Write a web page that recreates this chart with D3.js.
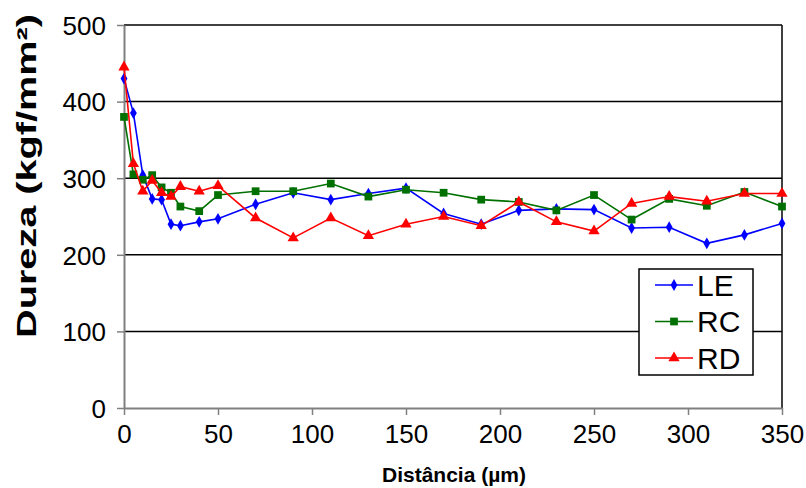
<!DOCTYPE html>
<html>
<head>
<meta charset="utf-8">
<script src="https://cdn.jsdelivr.net/npm/d3@7"></script>
<style>
  body { margin: 0; background: #fff; }
  svg { font-family: "Liberation Sans", Arial, sans-serif; }
</style>
</head>
<body>
<div id="chart"></div>
<script>
// distances (um) where hardness was measured
const distances = [0, 5, 10, 15, 20, 25, 30, 40, 50, 70, 90, 110, 130, 150, 170, 190, 210, 230, 250, 270, 290, 310, 330, 350];
const le = [430, 385, 304, 273, 272, 240, 238, 243, 247, 266, 281, 272, 280, 287, 254, 240, 258, 260, 259, 235, 236, 215, 226, 241];
const rc = [380, 305, 298, 304, 288, 281, 263, 257, 278, 283, 283, 293, 276, 285, 281, 272, 269, 258, 278, 246, 273, 264, 282, 263];
const rd = [445, 319, 283, 297, 281, 276, 289, 283, 290, 248, 222, 248, 225, 240, 250, 238, 269, 243, 231, 267, 276, 270, 280, 280];
const seriesNames = ['LE', 'RC', 'RD'];
const xTicks = [0, 50, 100, 150, 200, 250, 300, 350];
const yTicks = [0, 100, 200, 300, 400, 500];

const width = 806, height = 488;
const plotLeft = 124, plotRight = 782, plotTop = 25, plotBottom = 408;

const svg = d3.select('#chart').append('svg')
    .attr('width', width)
    .attr('height', height);

let x = d3.scaleLinear().domain([0, 350]).range([plotLeft, plotRight]);
let y = d3.scaleLinear().domain([0, 500]).range([plotBottom, plotTop]);

// gridlines (black), 500 line works as top border
svg.append('g')
    .selectAll('line')
    .data(yTicks.filter(d => d > 0))
    .join('line')
        .attr('x1', plotLeft).attr('x2', plotRight)
        .attr('y1', d => y(d)).attr('y2', d => y(d))
        .attr('stroke', '#000')
        .attr('stroke-width', 1.5);

// right border
svg.append('line')
    .attr('x1', plotRight).attr('x2', plotRight)
    .attr('y1', plotTop).attr('y2', plotBottom)
    .attr('stroke', '#000')
    .attr('stroke-width', 1.5);

// axes in grey
let xAxis = svg.append('g')
    .attr('transform', `translate(0,${plotBottom})`)
    .call(d3.axisBottom(x).tickValues(xTicks).tickSize(7).tickPadding(10).tickSizeOuter(0));
let yAxis = svg.append('g')
    .attr('transform', `translate(${plotLeft},0)`)
    .call(d3.axisLeft(y).tickValues(yTicks).tickSize(7).tickPadding(11).tickSizeOuter(0));

[xAxis, yAxis].forEach(a => {
    a.select('.domain').attr('stroke', '#808080').attr('stroke-width', 2);
    a.selectAll('.tick line').attr('stroke', '#808080').attr('stroke-width', 1.5);
    a.selectAll('.tick text')
        .attr('fill', '#000')
        .style('font-size', '26px')
        .style('font-family', '"Liberation Sans", Arial, sans-serif');
});
yAxis.selectAll('.tick text').attr('dy', '0.36em');

// titles
svg.append('text')
    .attr('x', 454)
    .attr('y', 482)
    .attr('text-anchor', 'middle')
    .style('font-size', '21px')
    .style('font-weight', 'bold')
    .text('Distância (µm)');

svg.append('text')
    .attr('transform', 'translate(36,176) rotate(-90)')
    .attr('text-anchor', 'middle')
    .attr('textLength', 324)
    .attr('lengthAdjust', 'spacingAndGlyphs')
    .style('font-size', '28px')
    .style('font-weight', 'bold')
    .text('Dureza (kgf/mm²)');

// series
const series = [
    { name: seriesNames[0], values: le, color: '#0000ff', symbol: d3.symbolDiamond, size: 40 },
    { name: seriesNames[1], values: rc, color: '#007000', symbol: d3.symbolSquare, size: 60 },
    { name: seriesNames[2], values: rd, color: '#ff0000', symbol: d3.symbolTriangle, size: 55 }
];

let line = d3.line()
    .x(d => x(d[0]))
    .y(d => y(d[1]));

series.forEach(s => {
    let pts = distances.map((d, i) => [d, s.values[i]]);
    let g = svg.append('g');
    g.append('path')
        .datum(pts)
        .attr('d', line)
        .attr('fill', 'none')
        .attr('stroke', s.color)
        .attr('stroke-width', 1.6);
    g.selectAll('path.pt')
        .data(pts)
        .join('path')
            .attr('class', 'pt')
            .attr('transform', d => `translate(${x(d[0])},${y(d[1])})`)
            .attr('d', d3.symbol().type(s.symbol).size(s.size))
            .attr('fill', s.color);
});

// legend
let legend = svg.append('g').attr('transform', 'translate(639,269)');
legend.append('rect')
    .attr('width', 114)
    .attr('height', 106)
    .attr('fill', '#fff')
    .attr('stroke', '#000')
    .attr('stroke-width', 1.5);
series.forEach((s, i) => {
    let row = legend.append('g').attr('transform', `translate(0,${16 + i * 36.5})`);
    row.append('line')
        .attr('x1', 16).attr('x2', 54)
        .attr('stroke', s.color)
        .attr('stroke-width', 1.6);
    row.append('path')
        .attr('transform', 'translate(35,0)')
        .attr('d', d3.symbol().type(s.symbol).size(s.size))
        .attr('fill', s.color);
    row.append('text')
        .attr('x', 58)
        .attr('dy', '0.36em')
        .style('font-size', '30px')
        .text(s.name);
});
</script>
</body>
</html>
